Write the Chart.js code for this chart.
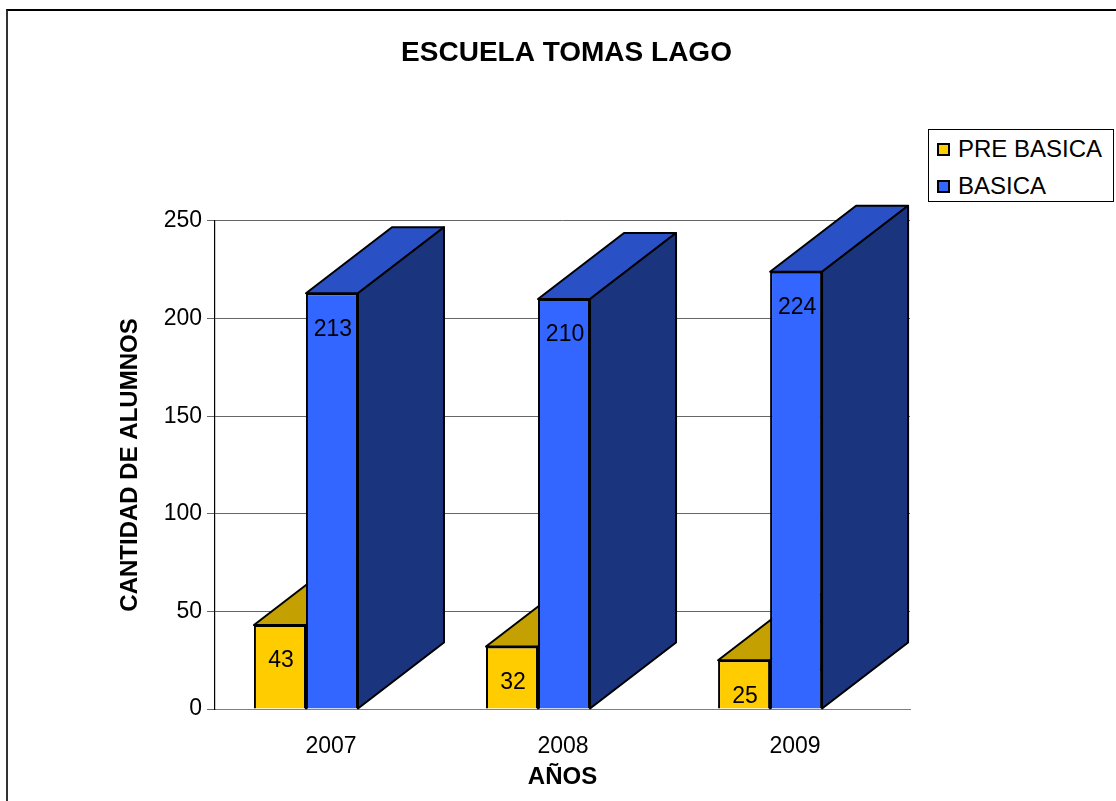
<!DOCTYPE html>
<html>
<head>
<meta charset="utf-8">
<script src="https://cdn.jsdelivr.net/npm/chart.js@4/dist/chart.umd.min.js"></script>
<style>
  body { margin: 0; background: #fff; font-family: 'Liberation Sans', Arial, sans-serif; }
  #wrap { position: relative; width: 1116px; height: 801px; overflow: hidden; }
  #frame { position: absolute; left: 6px; top: 9px; width: 1200px; height: 900px;
           border-top: 2px solid #000; border-left: 2px solid #333; }
  #legend { position: absolute; left: 928px; top: 129px; width: 184px; height: 71px;
            border: 1px solid #000; background: #fff; }
  .item { position: absolute; left: 8px; height: 26px; line-height: 26px; font-size: 24px; color: #000; white-space: nowrap; }
  .sw { display: inline-block; box-sizing: border-box; width: 13px; height: 13px; border: 2px solid #000; margin-right: 8px; vertical-align: 1px; }
</style>
</head>
<body>
<div id="wrap">
  <div id="frame"></div>
  <canvas id="chart"></canvas>
  <div id="legend"></div>
</div>
<script>
// chart values
const years = ['2007', '2008', '2009'];
const preBasica = [43, 32, 25];
const basica = [213, 210, 224];
const seriesNames = ['PRE BASICA', 'BASICA'];

// colours: front, top, side
const faceColors = [
    ['#FFCC00', '#C4A000', '#C4A000'],
    ['#3366FF', '#2A50C6', '#1A347E']
];
const depth = { dx: 86, dy: -66 };
const FONT = "'Liberation Sans', Arial, sans-serif";

// legend in html
const legend = document.getElementById('legend');
seriesNames.forEach((name, i) => {
    const div = document.createElement('div');
    div.className = 'item';
    div.style.top = (i === 0 ? 6 : 43) + 'px';
    div.innerHTML = `<span class="sw" style="background:${faceColors[i][0]}"></span>${name}`;
    legend.appendChild(div);
});

function poly(ctx, pts, fill) {
    ctx.beginPath();
    ctx.moveTo(pts[0][0], pts[0][1]);
    for (let i = 1; i < pts.length; i++) ctx.lineTo(pts[i][0], pts[i][1]);
    ctx.closePath();
    ctx.fillStyle = fill;
    ctx.fill();
    ctx.stroke();
}

// top and side faces of each bar, drawn before the front faces
const bar3d = {
    id: 'bar3d',
    beforeDatasetsDraw(chart) {
        const ctx = chart.ctx;
        ctx.save();
        ctx.lineWidth = 2;
        ctx.strokeStyle = '#000';
        ctx.lineJoin = 'round';
        chart.data.datasets.forEach((ds, di) => {
            chart.getDatasetMeta(di).data.forEach(bar => {
                const { x, y, base, width } = bar.getProps(['x', 'y', 'base', 'width'], true);
                const l = x - width / 2, r = x + width / 2;
                const dx = depth.dx, dy = depth.dy;
                poly(ctx, [[l, y], [r, y], [r + dx, y + dy], [l + dx, y + dy]], faceColors[di][1]);
                poly(ctx, [[r, y], [r + dx, y + dy], [r + dx, base + dy], [r, base]], faceColors[di][2]);
            });
        });
        ctx.restore();
    },
    afterDatasetsDraw(chart) {
        const ctx = chart.ctx;
        ctx.save();
        ctx.font = '23px ' + FONT;
        ctx.fillStyle = '#000';
        ctx.textAlign = 'center';
        ctx.textBaseline = 'middle';
        chart.data.datasets.forEach((ds, di) => {
            chart.getDatasetMeta(di).data.forEach((bar, i) => {
                const { x, y } = bar.getProps(['x', 'y'], true);
                ctx.fillText(ds.data[i].y, x + 1, y + 36);
            });
        });
        ctx.restore();
    }
};

const ctx = document.getElementById('chart').getContext('2d');
const chart = new Chart(ctx, {
    type: 'bar',
    data: {
        datasets: [
            {
                label: seriesNames[0],
                data: preBasica.map((v, i) => ({ x: i, y: v })),
                backgroundColor: faceColors[0][0],
                borderColor: '#000',
                borderWidth: 2
            },
            {
                label: seriesNames[1],
                data: basica.map((v, i) => ({ x: i, y: v })),
                backgroundColor: faceColors[1][0],
                borderColor: '#000',
                borderWidth: 2
            }
        ]
    },
    options: {
        responsive: true,
        maintainAspectRatio: false,
        animation: false,
        categoryPercentage: 104 / 232,
        barPercentage: 1,
        layout: { padding: { left: 17, right: 0, top: 0, bottom: 0 } },
        plugins: {
            legend: { display: false },
            tooltip: { enabled: false },
            title: {
                display: true,
                text: 'ESCUELA TOMAS LAGO',
                color: '#000',
                font: { family: FONT, size: 28, weight: 'bold', lineHeight: 1.2 },
                padding: { top: 36.2, bottom: 151.2 }
            }
        },
        scales: {
            x: {
                type: 'linear',
                offset: false,
                min: -0.392,
                max: 2.603,
                afterBuildTicks(scale) {
                    scale.ticks = years.map((y, i) => ({ value: i }));
                },
                afterFit(scale) { scale.height = 92; },
                grid: { display: false, offset: false },
                border: { color: '#808080', width: 1 },
                ticks: {
                    color: '#000',
                    font: { family: FONT, size: 23 },
                    padding: 16,
                    labelOffset: 25,
                    callback: (v) => years[v]
                },
                title: {
                    display: true,
                    text: 'AÑOS',
                    color: '#000',
                    font: { family: FONT, size: 24, weight: 'bold', lineHeight: 1.2 },
                    padding: { top: 0, bottom: 9.6 }
                }
            },
            y: {
                min: 0,
                max: 250,
                afterFit(scale) { scale.width = 198; },
                grid: { color: '#666', lineWidth: 1, tickLength: 8, tickColor: '#666' },
                border: { color: '#000', width: 1.2 },
                ticks: {
                    stepSize: 50,
                    color: '#000',
                    font: { family: FONT, size: 23 },
                    padding: 5
                },
                title: {
                    display: true,
                    text: 'CANTIDAD DE ALUMNOS',
                    color: '#000',
                    font: { family: FONT, size: 24, weight: 'bold', lineHeight: 1.2 },
                    padding: { top: 98.6, bottom: 0 }
                }
            },
            pad: {
                type: 'linear',
                position: 'right',
                display: true,
                afterFit(scale) { scale.width = 206; },
                grid: { display: false },
                border: { display: false },
                ticks: { display: false }
            }
        }
    },
    plugins: [bar3d]
});
</script>
</body>
</html>
